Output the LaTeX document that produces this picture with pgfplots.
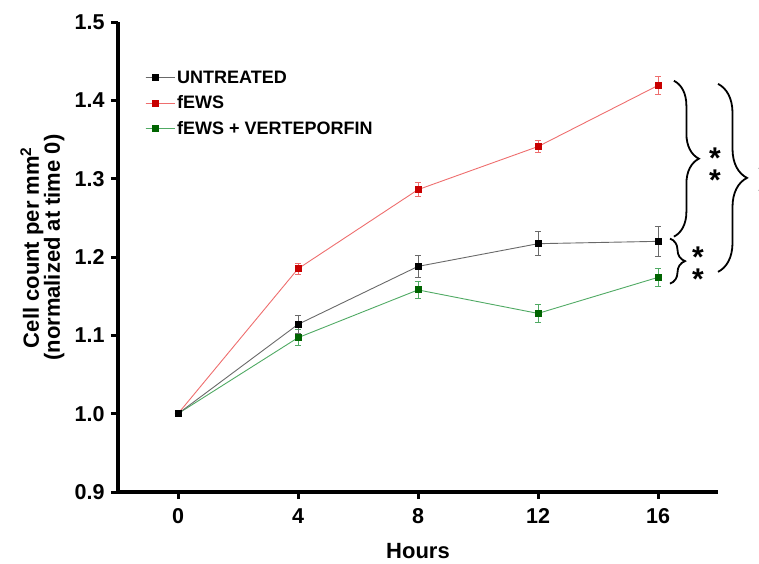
\documentclass[border=0pt]{standalone}
\usepackage{fontspec}
\setmainfont{Liberation Sans}
\usepackage{pgfplots}
\pgfplotsset{compat=1.18}
\usetikzlibrary{decorations.pathreplacing}

\definecolor{ctrlline}{RGB}{105,105,105}
\definecolor{ewsline}{RGB}{238,110,110}
\definecolor{ewsmark}{RGB}{200,0,0}
\definecolor{vpline}{RGB}{80,170,100}
\definecolor{vpmark}{RGB}{0,100,0}

\pgfplotsset{
  series/.style n args={2}{
    forget plot, color=#1, line width=0.9pt,
    mark=square*, mark size=3pt, mark options={fill=#2, draw=#2, solid},
    error bars/.cd, y dir=both, y explicit,
    error bar style={#1, line width=0.9pt},
    error mark options={rotate=90, #1, mark size=3.2pt, line width=0.9pt},
  },
}

\begin{document}
\begin{tikzpicture}
\begin{axis}[
  scale only axis, width=600pt, height=470pt,
  xmin=-2, xmax=18, ymin=0.9, ymax=1.5,
  axis lines*=left,
  axis line style={line width=3.2pt, -},
  tick align=outside, major tick length=7pt,
  tick style={line width=3pt, black},
  xtick={0,4,8,12,16},
  ytick={0.9,1.0,1.1,1.2,1.3,1.4,1.5},
  /pgf/number format/assume math mode=true,
  ticklabel style={font=\fontsize{21.5}{24}\selectfont\bfseries},
  xticklabel style={yshift=-6pt},
  yticklabel style={xshift=-3pt, /pgf/number format/.cd, fixed, fixed zerofill, precision=1},
  xlabel={Hours},
  xlabel style={at={(axis description cs:0.5,0)}, anchor=center, yshift=-59pt,
    font=\fontsize{22}{24}\selectfont\bfseries},
  ylabel={Cell count per mm\textsuperscript{2}\\(normalized at time 0)},
  ylabel style={at={(axis description cs:-0.126,0.52)}, anchor=center,
    align=center, font=\fontsize{22}{21}\selectfont\bfseries},
  legend style={at={(axis description cs:0.04,0.905)}, anchor=north west,
    draw=none, fill=none, font=\fontsize{18}{20}\selectfont\bfseries,
    row sep=7pt},
  legend cell align=left,
  legend image code/.code={
    \path (0pt,0pt) -- (29pt,0pt);
    \draw[#1, mark repeat=2, mark phase=2] plot coordinates {(0pt,0pt) (10pt,0pt) (20pt,0pt)};
  },
  clip=false,
]
\coordinate (o) at (rel axis cs:0,0);

\addlegendimage{ctrlline, line width=0.9pt, mark=square*, mark size=3pt, mark options={fill=black, draw=black}}
\addlegendentry{UNTREATED}
\addlegendimage{ewsline, line width=0.9pt, mark=square*, mark size=3pt, mark options={fill=ewsmark, draw=ewsmark}}
\addlegendentry{fEWS}
\addlegendimage{vpline, line width=0.9pt, mark=square*, mark size=3pt, mark options={fill=vpmark, draw=vpmark}}
\addlegendentry{fEWS + VERTEPORFIN}

% fEWS
\addplot[series={ewsline}{ewsmark}] coordinates {
  (0,1.000) +- (0,0)
  (4,1.185) +- (0,0.007)
  (8,1.286) +- (0,0.009)
  (12,1.341) +- (0,0.008)
  (16,1.419) +- (0,0.011)
};
% fEWS + VERTEPORFIN
\addplot[series={vpline}{vpmark}] coordinates {
  (0,1.000) +- (0,0)
  (4,1.097) +- (0,0.010)
  (8,1.158) +- (0,0.011)
  (12,1.128) +- (0,0.012)
  (16,1.174) +- (0,0.011)
};
% UNTREATED
\addplot[series={ctrlline}{black}] coordinates {
  (0,1.000) +- (0,0)
  (4,1.114) +- (0,0.012)
  (8,1.188) +- (0,0.014)
  (12,1.217) +- (0,0.015)
  (16,1.220) +- (0,0.019)
};

% significance brackets
\draw[line width=1.8pt, decorate, decoration={brace, amplitude=25pt}]
  (axis cs:16.53,1.425) -- (axis cs:16.53,1.226);
\node[align=center, font=\fontsize{30}{13}\selectfont\bfseries]
  at (axis cs:17.9,1.312) {*\\*};
\draw[line width=1.8pt, decorate, decoration={brace, amplitude=15pt}]
  (axis cs:16.4,1.2235) -- (axis cs:16.4,1.166);
\node[align=center, font=\fontsize{30}{13}\selectfont\bfseries]
  at (axis cs:17.33,1.186) {*\\*};
\draw[line width=1.8pt, decorate, decoration={brace, amplitude=29pt}]
  (axis cs:18.0,1.421) -- (axis cs:18.0,1.181);
\node[overlay, align=center, font=\fontsize{30}{13}\selectfont\bfseries]
  at (axis cs:19.55,1.292) {*\\*};
\end{axis}
\pgfresetboundingbox
\path[use as bounding box] ([shift={(-118pt,-71pt)}]o) rectangle ++(759pt,563pt);
\end{tikzpicture}
\end{document}
